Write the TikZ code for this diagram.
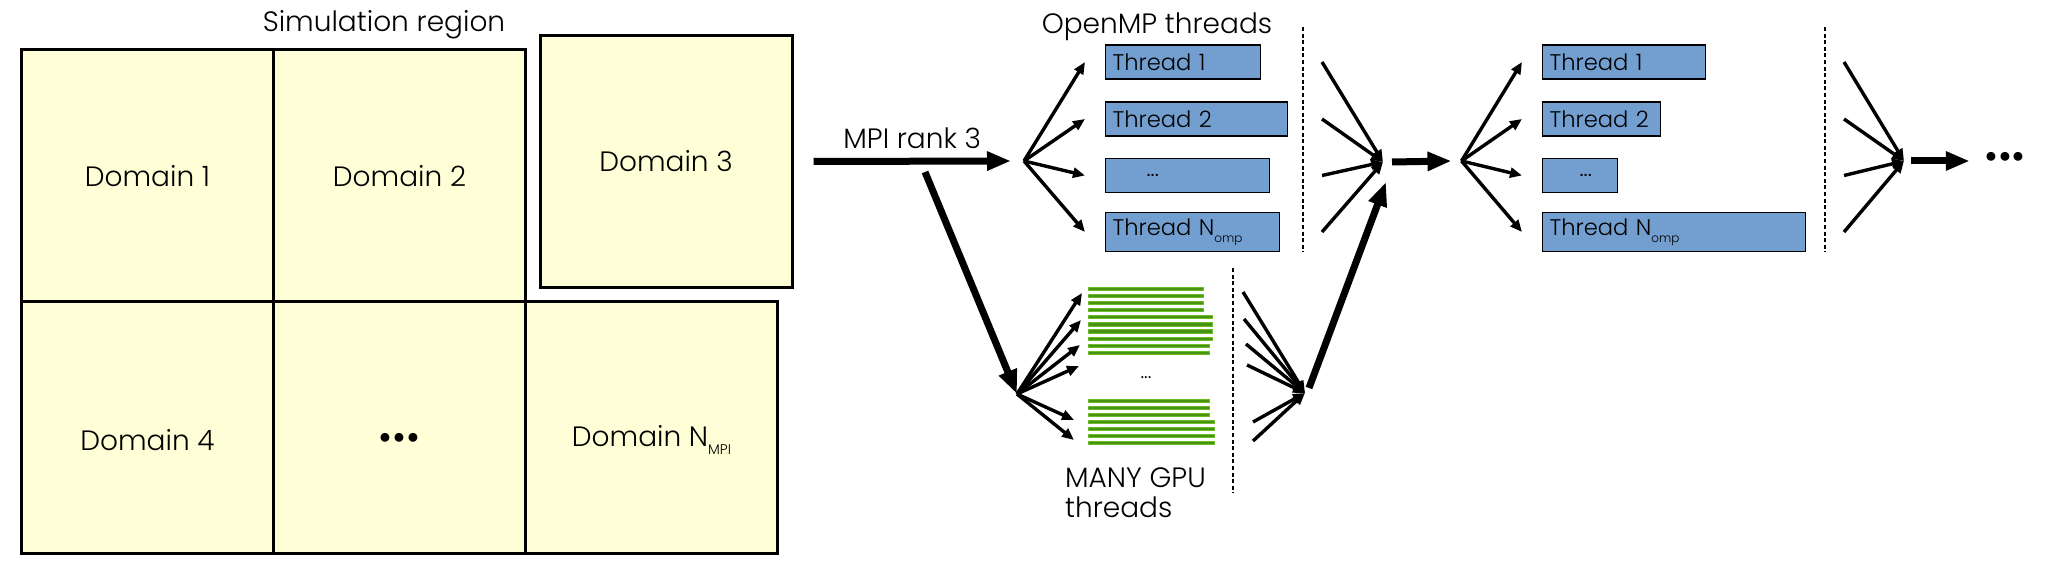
\documentclass[tikz,border=0pt]{standalone}
\usepackage{fontspec}
\setmainfont{Poppins}[UprightFont=* Light]
\usepackage{tikz}
\usetikzlibrary{arrows.meta}
\definecolor{cdom}{RGB}{255,255,215}
\definecolor{cthr}{RGB}{114,159,207}
\definecolor{cgpu}{RGB}{76,146,18}
\definecolor{cgpul}{RGB}{104,190,34}
\newcommand{\thrdots}[1]{\hspace*{#1}...}
\newcommand{\lowsub}[3]{\raisebox{#1}{\fontsize{#2}{#2}\selectfont #3}}
\newcommand{\bigdots}{{\fontsize{19}{20}\selectfont\textbullet\textbullet\textbullet}}
\tikzstyle{io}=[font=\fontsize{14}{16}\selectfont]
\tikzstyle{dombox}=[draw, fill=cdom, line width=1.5pt, minimum size=126pt, font=\fontsize{14}{16}\selectfont]
\tikzstyle{thread}=[draw, fill=cthr, line width=0.6pt, anchor=west, minimum height=17pt, inner xsep=3.5pt, align=left, font=\fontsize{11.3}{12}\selectfont]
\tikzstyle{gpubar}=[draw=cgpul, fill=cgpu, line width=0.5pt]
\tikzstyle{divider}=[line width=1pt, dash pattern=on 2pt off 1.3pt]
\tikzstyle{arrow}=[line width=1.7pt, -{Triangle[length=6pt,width=5pt]}]
\tikzstyle{bigarrow}=[line width=3.5pt, -{Triangle[length=12pt,width=9pt]}]

\begin{document}
\begin{tikzpicture}[x=0.5pt, y=-0.5pt]
  \useasboundingbox (0,0) rectangle (2052,576);
  % simulation region split into MPI domains
  \node [io] (simreg) at (384,25) {Simulation region};
  \foreach \l [count=\i] in {Domain 1,Domain 2}
    \node [dombox] (dom-\i) at (147.5+252*\i-252,176) {\l};
  \node [dombox] (dom-3) at (666,161.5) {Domain 3};
  \foreach \l [count=\i] in {Domain 4,\bigdots,Domain N\lowsub{-4pt}{7}{MPI}}
    \node [dombox, text height=23pt] (dom-b\i) at (147.5+252*\i-252,428) {\l};

  % MPI rank 3 goes to CPU and GPU
  \coordinate (fan-1) at (1024,161);
  \coordinate (fan-2) at (1461.5,161);
  \coordinate (merge-1) at (1383,162);
  \coordinate (merge-2) at (1904,161);
  \coordinate (split) at (925,172);
  \coordinate (gfan) at (1017,394);
  \coordinate (gmerge) at (1305,393);
  \draw [bigarrow] ([xshift=10pt]dom-3.east) -- node[io, above=1pt]{MPI rank 3} ([xshift=-6.5pt]fan-1);
  \draw [bigarrow] (split) -- (gfan);

  % OpenMP threads, first step
  \node [io] (omp) at (1157,27) {OpenMP threads};
  \foreach \t/\l/\y [count=\i] in {70.5/Thread 1/62, 84/Thread 2/119, 75/\thrdots{17pt}/175.5, 80/Thread N\lowsub{-3.3pt}{6}{omp}/232}{
    \node [thread, text width=\t pt] (thr1-\i) at (1105,\y) {\l};
    \draw [arrow] (fan-1) -- ([xshift=-10pt]thr1-\i.west);
    \coordinate (in1-\i) at (1322,\y);
    \draw [arrow] (in1-\i) -- (merge-1);
  }
  \draw [divider] (1303,27) -- (1303,252);

  % OpenMP threads, next step
  \foreach \t/\l/\y [count=\i] in {74.5/Thread 1/62, 52/Thread 2/119, 30.5/\thrdots{15pt}/175.5, 124.5/Thread N\lowsub{-3.3pt}{6}{omp}/232}{
    \node [thread, text width=\t pt] (thr2-\i) at (1542,\y) {\l};
    \draw [arrow] (fan-2) -- ([xshift=-10pt]thr2-\i.west);
    \coordinate (in2-\i) at (1844,\y);
    \draw [arrow] (in2-\i) -- (merge-2);
  }
  \draw [divider] (1825,27) -- (1825,252);
  \draw [bigarrow] ([xshift=4.5pt]merge-1) -- ([xshift=-5pt]fan-2);
  \node [io, inner sep=0pt] (more) at (2005,161) {\bigdots};
  \draw [bigarrow] ([xshift=3.5pt]merge-2) -- ([xshift=-7pt]more.west);

  % GPU threads
  \foreach \r/\e in {0/1203,1/1203,2/1203,3/1203,4/1212,5/1212,6/1212,7/1212,8/1209,9/1209}
    \draw [gpubar] (1088.5,{289+7.1*\r-1.6}) rectangle (\e,{289+7.1*\r+1.6});
  \foreach \r/\e in {0/1209,1/1209,2/1209,3/1214,4/1214,5/1214,6/1214}
    \draw [gpubar] (1088.5,{401+7.05*\r-1.6}) rectangle (\e,{401+7.05*\r+1.6});
  \node [io, font=\fontsize{10}{12}\selectfont] (gdots) at (1146,378) {...};
  \node [io, anchor=west, align=left, font=\fontsize{14}{15}\selectfont] (many) at (1058,493) {MANY GPU\\threads};
  \foreach \x/\y [count=\i] in {1082/293, 1081/320, 1080/345, 1079/366, 1074/420, 1074/440}{
    \coordinate (gtip-\i) at (\x,\y);
    \draw [arrow] (gfan) -- (gtip-\i);
  }
  \foreach \x/\y [count=\i] in {1243/292, 1244/319, 1246/344, 1247/365, 1253/422, 1253/441}{
    \coordinate (gin-\i) at (\x,\y);
    \draw [arrow] (gin-\i) -- (gmerge);
  }
  \draw [divider] (1233,268) -- (1233,493);
  \draw [bigarrow] ([shift={(2pt,2.5pt)}]gmerge) -- ([shift={(1.5pt,-10pt)}]merge-1);
\end{tikzpicture}
\end{document}
